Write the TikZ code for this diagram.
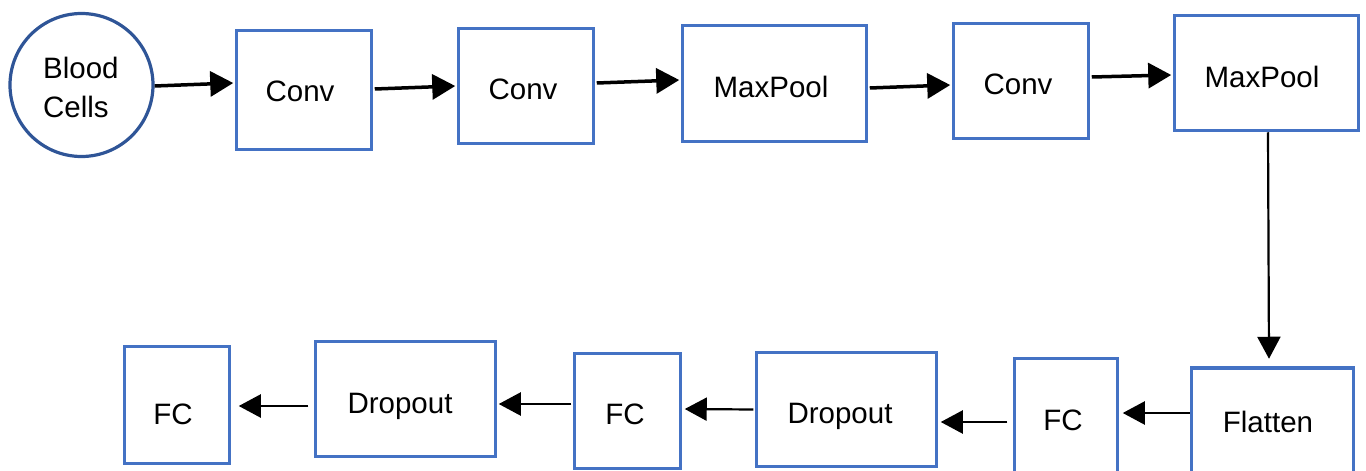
\documentclass[tikz,border=0pt]{standalone}
\usepackage{fontspec}
\setmainfont{Liberation Sans}
\usetikzlibrary{arrows.meta,calc}
\definecolor{boxblue}{HTML}{4472C4}
\definecolor{circblue}{HTML}{2F5597}
\tikzset{
  layer/.style={draw=boxblue, line width=3.5pt, rectangle, inner sep=0pt, fill=white},
  incirc/.style={draw=circblue, line width=3.2pt, circle, inner sep=0pt, minimum size=143pt},
  lbl/.style={anchor=base, inner sep=0pt, font=\fontsize{29.5}{34}\selectfont},
  toparrow/.style={line width=3.5pt, -{Triangle[length=23pt,width=25pt]}},
  botarrow/.style={line width=2.2pt, -{Triangle[length=22pt,width=23pt]}},
}
\begin{document}
\begin{tikzpicture}[x=1pt,y=-1pt]
\useasboundingbox (0,0) rectangle (1366,471);
\clip (0,0) rectangle (1366,471);
% top row
\node[incirc] (bc) at (81.5,85) {};
\node[layer, minimum width=135pt, minimum height=119pt] (c1) at (304,90) {};
\node[layer, minimum width=135pt, minimum height=115pt] (c2) at (526,86) {};
\node[layer, minimum width=184pt, minimum height=116pt] (m1) at (774.5,83.5) {};
\node[layer, minimum width=135pt, minimum height=115pt] (c3) at (1021,81) {};
\node[layer, minimum width=184pt, minimum height=115pt] (m2) at (1266.5,73) {};
% bottom row
\node[layer, minimum width=105pt, minimum height=117pt] (f1) at (177,405) {};
\node[layer, minimum width=180pt, minimum height=115pt] (d1) at (405.5,399) {};
\node[layer, minimum width=106pt, minimum height=115pt] (f2) at (627.5,411) {};
\node[layer, minimum width=180pt, minimum height=114pt] (d2) at (846.5,409.5) {};
\node[layer, minimum width=103pt, minimum height=115pt] (f3) at (1066,416) {};
\node[layer, minimum width=162pt, minimum height=115pt] (fl) at (1272.5,425.5) {};
% labels
\node[lbl, anchor=base west] (tb1) at (43,78) {Blood};
\node[lbl, anchor=base west] (tb2) at (43,117) {Cells};
\node[lbl] (tc1) at (300,101) {Conv};
\node[lbl] (tc2) at (523,99) {Conv};
\node[lbl] (tm1) at (771,97) {MaxPool};
\node[lbl] (tc3) at (1018,94) {Conv};
\node[lbl] (tm2) at (1262,87) {MaxPool};
\node[lbl] (tf1) at (173,424) {FC};
\node[lbl] (td1) at (400,413) {Dropout};
\node[lbl] (tf2) at (625,424) {FC};
\node[lbl] (td2) at (840,423) {Dropout};
\node[lbl] (tf3) at (1063,430) {FC};
\node[lbl] (tfl) at (1268,432) {Flatten};
% top arrows
\draw[toparrow] ($(bc.east)+(0,1)$) -- ($(c1.west)+(-1.5,-7)$);
\draw[toparrow] ($(c1.east)+(1.5,-1)$) -- ($(c2.west)+(-1.5,0)$);
\draw[toparrow] ($(c2.east)+(1.5,-3)$) -- ($(m1.west)+(-1.5,-3.5)$);
\draw[toparrow] ($(m1.east)+(1.5,4.5)$) -- ($(c3.west)+(-1.5,4)$);
\draw[toparrow] ($(c3.east)+(1.5,-4)$) -- ($(m2.west)+(-1.5,2)$);
% down arrow
\draw[botarrow] ($(m2.south)+(1.5,0)$) -- ($(fl.north)+(-3.5,-7.5)$);
% bottom arrows
\draw[botarrow] ($(fl.west)+(0,-12.5)$) -- ($(f3.east)+(3.5,-3)$);
\draw[botarrow] ($(f3.west)+(-5.5,6)$) -- ($(d2.east)+(2.5,12.5)$);
\draw[botarrow] ($(d2.west)+(-1.5,0)$) -- ($(f2.east)+(2.5,-2)$);
\draw[botarrow] ($(f2.west)+(-1.5,-7)$) -- ($(d1.east)+(1.5,5)$);
\draw[botarrow] ($(d1.west)+(-5.5,7)$) -- ($(f1.east)+(7.5,1)$);
\end{tikzpicture}
\end{document}
